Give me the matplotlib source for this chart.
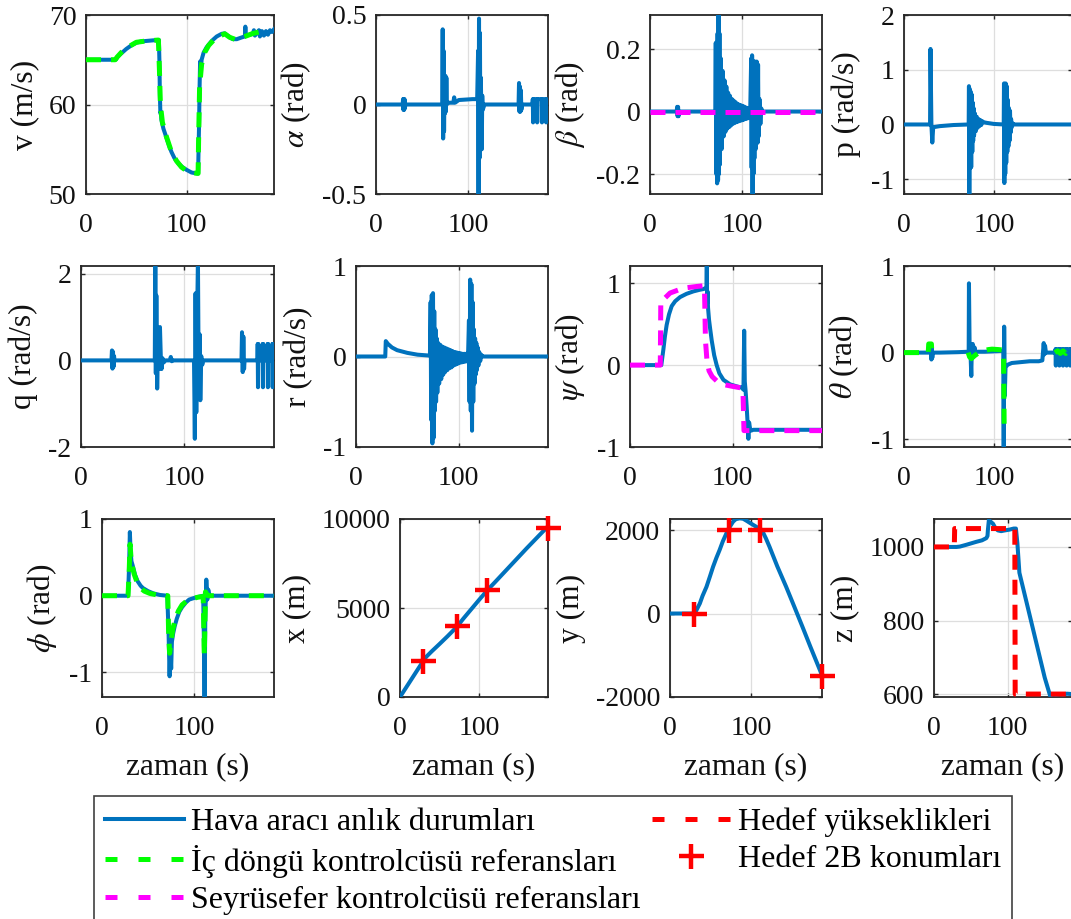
import numpy as np
import matplotlib
matplotlib.use('Agg')
import matplotlib.pyplot as plt
from matplotlib.lines import Line2D
from matplotlib.ticker import FuncFormatter

plt.rcParams['font.family'] = ['Liberation Serif', 'DejaVu Serif']
plt.rcParams['mathtext.fontset'] = 'stix'
plt.rcParams['axes.unicode_minus'] = False

BLUE = '#0072BD'
GREEN = '#00FF00'
MAGENTA = '#FF00FF'
RED = '#FF0000'
DARK = '#262626'

T_END = 187

# ---- simulation traces: (time [s], value) ----
v_state = np.array([(0, 65), (29, 65), (30, 65.05), (31, 65.3), (35, 65.7), (40, 66.2), (45, 66.6),
                    (50, 66.9), (55, 67.05), (60, 67.1), (65, 67.15), (70, 67.2), (72.5, 67.2),
                    (73, 65), (73.5, 61), (74, 59), (74.5, 59.2), (75, 58.3), (77, 57.3), (80, 56.3),
                    (83, 55.3), (85, 54.7), (88, 54), (92, 53.4), (96, 53), (100, 52.7), (105, 52.4),
                    (110, 52.3), (111.5, 52.3), (112.5, 58), (113, 62), (113.5, 64.8), (114, 63.5),
                    (115, 65), (117, 65.8), (120, 66.4), (125, 67.1), (130, 67.6), (135, 67.9),
                    (138, 67.95), (142, 67.6), (146, 67.3), (150, 67.3), (155, 67.5), (158, 67.6),
                    (158.5, 68.7), (159, 67.7), (163, 67.8), (166, 67.9), (167, 68.3), (168, 67.7),
                    (170, 68.0), (172, 68.3), (173, 67.6), (175, 68.2), (177, 67.7), (179, 68.2),
                    (181, 67.8), (183, 68.3), (185, 68.1), (187, 68.4)])
v_ref = np.array([(0, 65), (29, 65), (31, 65.3), (35, 65.8), (40, 66.3), (50, 66.95), (60, 67.1),
                  (72, 67.2), (73, 64), (74, 60), (76, 58), (80, 56.4), (85, 54.7), (90, 53.7),
                  (95, 53.0), (100, 52.6), (105, 52.4), (111.5, 52.3), (112, 56), (113, 62),
                  (115, 64.5), (118, 65.8), (122, 66.6), (127, 67.2), (132, 67.6), (138, 67.9),
                  (143, 67.5), (148, 67.3), (153, 67.4), (158, 67.6), (165, 67.9), (172, 68.1),
                  (178, 68.2)])

alpha_state = np.array([(0, 0), (29, 0), (29.4, 0.03), (29.8, -0.03), (30.2, 0.03), (30.6, -0.03),
                        (31, 0.03), (31.4, -0.02), (32, 0), (72, 0), (72.5, 0.42), (73, -0.19),
                        (73.5, 0.3), (74, -0.15), (74.5, 0.1), (75, -0.05), (75.5, 0.16), (76, -0.04),
                        (76.5, 0.15), (77, 0), (78, 0.01), (84, 0.01), (85, 0.04), (86, 0.01),
                        (90, 0.025), (105, 0.03), (110, 0.03), (111, 0.3), (111.5, -0.5), (112, 0.48),
                        (112.5, -0.3), (113, 0.4), (113.5, -0.25), (114, 0.15), (115, -0.25),
                        (115.5, 0.05), (116, -0.03), (118, 0), (155, 0), (155.5, 0.12), (156, -0.04),
                        (156.5, 0.1), (157, -0.04), (157.5, 0.08), (158, -0.03), (159, 0), (170, 0),
                        (170.5, 0.03), (170.8, -0.1), (171.1, 0.03), (174.9, 0.03), (175.2, -0.1),
                        (175.5, 0.03), (180.1, 0.03), (180.4, -0.1), (180.7, 0.03), (184.7, 0.03),
                        (185, -0.1), (185.3, 0.03), (187, 0.02)])

beta_state = np.array([(0, 0), (29, 0), (29.5, 0.015), (30, -0.015), (30.5, 0.015), (31, -0.015),
                       (31.5, 0), (71, 0), (71.5, 0.22), (72, -0.2), (72.5, 0.2), (73, -0.23),
                       (73.5, 0.25), (74, -0.22), (74.5, 0.31), (75, -0.2), (75.5, 0.25), (76, -0.17),
                       (77, 0.17), (78, -0.12), (79, 0.13), (80, -0.08), (81, 0.1), (82, -0.065),
                       (83, 0.08), (84, -0.055), (85, 0.06), (86, -0.05), (87, 0.05), (88, -0.045),
                       (89, 0.04), (90, -0.04), (91, 0.035), (92, -0.037), (93, 0.03), (94, -0.034),
                       (95, 0.025), (96, -0.032), (97, 0.022), (98, -0.03), (99, 0.02), (100, -0.028),
                       (101, 0.018), (102, -0.026), (103, 0.015), (104, -0.024), (105, 0.012),
                       (106, -0.022), (107, 0.01), (108, -0.02), (109, 0.01), (110, 0.17),
                       (110.5, -0.18), (111, 0.18), (111.5, -0.27), (112, 0.16), (112.5, -0.2),
                       (113, 0.16), (113.5, -0.15), (114, 0.16), (115, -0.12), (116, 0.16),
                       (117, -0.1), (117.5, 0.15), (118, -0.08), (119, 0.04), (120, -0.04),
                       (121, 0.01), (122, 0), (187, 0)])
beta_ref = np.array([(0, 0), (187, 0)])

p_state = np.array([(0, 0), (29, 0), (29.5, 1.38), (30.5, 0.0), (31.5, -0.33), (32.5, -0.05),
                    (40, -0.03), (55, -0.01), (72, 0), (72.3, 0.7), (72.7, -1.27), (73.2, 0.65),
                    (73.7, -0.8), (74.2, 0.6), (74.8, -0.78), (75.3, 0.55), (76, -0.5), (76.5, 0.4),
                    (77, -0.3), (77.5, 0.3), (78, -0.2), (79, 0.2), (80, -0.12), (81, 0.14),
                    (82, -0.06), (83, 0.1), (84, -0.03), (85, 0.08), (86, -0.01), (87, 0.06),
                    (89, 0.04), (92, 0.03), (96, 0.02), (100, 0.01), (111, 0), (111.3, 0.75),
                    (111.7, -1.07), (112.2, 0.7), (112.7, -0.9), (113.2, 0.75), (113.8, -0.7),
                    (114.4, 0.7), (115, -0.5), (115.6, 0.45), (116.2, -0.4), (116.8, 0.3),
                    (117.4, -0.3), (118, 0.25), (118.6, -0.15), (119.2, 0.1), (120, -0.05),
                    (121, 0.02), (122, 0), (187, 0)])

q_state = np.array([(0, 0), (29.5, 0), (30, 0.23), (30.5, -0.19), (31, 0.2), (31.5, -0.15),
                    (32, 0.1), (32.5, 0), (71.5, 0), (72, 2.3), (72.5, -0.3), (73, 1.5),
                    (73.8, -0.65), (74.5, 0.3), (75.5, -0.2), (76.5, 0.77), (77.3, 0.1), (78, -0.2),
                    (79, 0.05), (80, -0.05), (82, 0), (86, 0), (87, 0.08), (88, -0.02), (89, 0),
                    (109.5, 0), (110.3, -1.81), (111, 1.55), (111.7, -1.2), (112.5, 1.0),
                    (113.3, 2.3), (114, -0.3), (115, 0.6), (115.6, -0.92), (116.5, 0.1),
                    (117.5, -0.1), (118.5, 0), (155.5, 0), (156, 0.65), (156.7, -0.27),
                    (157.3, 0.55), (158, -0.2), (158.5, 0), (171, 0), (171.2, 0.38),
                    (171.5, -0.62), (171.8, 0.38), (172, 0), (175.8, 0), (176, 0.38),
                    (176.3, -0.62), (176.6, 0.38), (176.8, 0), (180.6, 0), (180.8, 0.38),
                    (181.1, -0.62), (181.4, 0.38), (181.6, 0), (185.2, 0), (185.4, 0.38),
                    (185.7, -0.62), (186, 0.38), (186.2, 0), (187, 0)])

r_state = np.array([(0, 0), (28.5, 0), (29, 0.17), (31, 0.14), (35, 0.1), (40, 0.07), (50, 0.04),
                    (60, 0.02), (72, 0.01), (72.7, 0.6), (73.2, -0.7), (73.8, 0.68), (74.4, -0.96),
                    (75, 0.7), (75.6, -0.9), (76.2, 0.5), (76.8, -0.6), (77.4, 0.3), (78, -0.5),
                    (78.6, 0.2), (79.2, -0.4), (80, 0.15), (81, -0.3), (82, 0.13), (83, -0.25),
                    (84, 0.11), (85, -0.2), (86, 0.1), (87, -0.17), (88, 0.09), (89, -0.15),
                    (90, 0.08), (91, -0.13), (92, 0.07), (93, -0.12), (94, 0.06), (95, -0.1),
                    (96, 0.05), (97, -0.09), (98, 0.045), (99, -0.08), (100, 0.04), (101, -0.07),
                    (102, 0.035), (103, -0.065), (104, 0.03), (105, -0.06), (106, 0.03),
                    (107, -0.055), (108, 0.03), (109, -0.05), (110, 0.4), (110.6, -0.5),
                    (111.2, 0.85), (111.8, -0.6), (112.4, 0.8), (113, -0.82), (113.6, 0.6),
                    (114.2, -0.5), (114.8, 0.3), (115.4, -0.3), (116, 0.2), (116.6, -0.2),
                    (117.2, 0.15), (117.8, -0.15), (118.5, 0.1), (119.2, -0.1), (120, 0.05),
                    (121, -0.05), (122, 0.02), (123, 0), (187, 0)])

psi_state = np.array([(0, 0), (30.5, 0), (32.5, 0.19), (34, 0.35), (35.7, 0.49), (38, 0.62),
                      (40.6, 0.72), (44, 0.78), (48.7, 0.83), (55, 0.87), (61.7, 0.9), (68, 0.92),
                      (72, 0.93), (74.5, 0.95), (74.8, 1.25), (75.1, 0.75), (75.5, 0.9), (76, 0.7),
                      (77, 0.55), (78, 0.45), (79.6, 0.3), (82, 0.12), (84.4, 0.0), (87, -0.1),
                      (91, -0.18), (97.4, -0.235), (104, -0.26), (108.8, -0.275), (110.5, -0.3),
                      (111.2, 0.42), (111.8, -0.2), (112.5, -0.3), (113.6, -0.5), (114.5, -0.7),
                      (115.3, -0.9), (116, -0.7), (117, -0.78), (118, -0.8), (120, -0.79),
                      (187, -0.79)])
psi_ref = np.array([(0, 0), (29.5, 0), (30, 0.78), (32.5, 0.8), (39, 0.88), (52, 0.94), (65, 0.96),
                    (72.5, 0.97), (73.5, 0.3), (75, 0.05), (77, -0.07), (80, -0.14), (85, -0.2),
                    (92, -0.24), (100, -0.26), (109, -0.28), (110, -0.3), (111, -0.8), (187, -0.8)])

theta_state = np.array([(0, 0), (29.5, 0), (30, 0.06), (30.5, -0.08), (31, 0.05), (31.5, -0.06),
                        (32, 0), (40, 0.0), (60, 0.005), (72, 0.01), (72.3, 0.8), (73, 0.1), (74, 0.0),
                        (74.9, -0.27), (75.5, 0.05), (76.5, 0.1), (77.5, -0.05), (78.5, 0.06),
                        (79.5, 0.0), (81, 0.01), (90, 0.01), (100, 0.015), (110.5, 0.02),
                        (111, -1.15), (111.5, 0.3), (112.2, -0.5), (113, -0.17), (115.4, -0.14),
                        (120, -0.12), (130, -0.11), (140, -0.1), (150, -0.1), (154, -0.09),
                        (155.5, 0.11), (156.3, -0.02), (157, 0.08), (158, 0), (168, 0),
                        (168.7, 0.04), (169, -0.15), (169.3, 0.04), (172.7, 0.04), (173, -0.15),
                        (173.3, 0.04), (176.7, 0.04), (177, -0.15), (177.3, 0.04), (180.7, 0.04),
                        (181, -0.15), (181.3, 0.04), (184.7, 0.04), (185, -0.15), (185.3, 0.04),
                        (187, 0.02)])
theta_ref = np.array([(0, 0), (27, 0), (27.5, 0.1), (30.5, 0.1), (31, 0), (np.nan, np.nan),
                      (71.5, 0), (73, -0.05), (75, -0.07), (78, -0.04), (82, -0.01), (88, 0.02),
                      (94, 0.035), (98, 0.04), (105, 0.035), (110, 0.03), (110.8, 0.0),
                      (111.5, -0.85), (np.nan, np.nan), (168, 0), (171, 0.02), (174, -0.01),
                      (177, 0.02), (180, -0.01), (183, 0.02), (187, 0)])

phi_state = np.array([(0, 0), (28.3, 0), (29.5, 0.4), (30.3, 0.83), (31, 0.6), (32, 0.45),
                      (33.7, 0.38), (36, 0.27), (38.7, 0.19), (42, 0.13), (44.5, 0.1), (50, 0.06),
                      (56, 0.03), (63, 0.01), (71, 0.0), (72.4, -0.5), (73.5, -1.05), (74.3, -0.7),
                      (75.2, -0.95), (76, -0.6), (77.4, -0.49), (79, -0.4), (81.3, -0.3),
                      (84, -0.21), (87, -0.15), (91, -0.09), (94.8, -0.05), (100, -0.03),
                      (106.5, -0.01), (110, 0), (110.8, -0.6), (111.5, -1.4), (112.3, -0.3),
                      (113.4, 0.21), (114.5, -0.05), (115.5, 0.08), (117, 0.0), (187, 0)])
phi_ref = np.array([(0, 0), (28.3, 0), (29.5, 0.3), (30.5, 0.67), (31.5, 0.5), (33, 0.38),
                    (35, 0.28), (38, 0.18), (42, 0.1), (46, 0.06), (52, 0.03), (60, 0.01),
                    (71.5, 0.0), (72.5, -0.5), (73.5, -0.75), (75, -0.6), (77, -0.43), (80, -0.3),
                    (83, -0.2), (87, -0.12), (92, -0.07), (98, -0.04), (104, -0.02), (110, -0.01),
                    (110.5, -0.3), (111.2, -0.77), (112, -0.3), (112.5, 0.05), (113.5, 0.03),
                    (115, 0.0), (187, 0)])

x_state = np.array([(0, 0), (29, 2000), (33, 2250), (40, 2560), (50, 2980), (60, 3410), (72, 3950),
                    (80, 4400), (90, 4930), (100, 5460), (111, 6030), (120, 6450), (140, 7400),
                    (160, 8350), (180, 9270), (187, 9580)])
y_state = np.array([(0, 0), (28.6, 0), (32, 60), (36.7, 240), (40, 420), (44.9, 640), (49, 880),
                    (53, 1120), (57, 1330), (61, 1520), (65, 1730), (69.4, 1920), (73, 2060),
                    (77.6, 2200), (81, 2260), (85.7, 2280), (90, 2270), (94, 2224), (100, 2150),
                    (106, 2080), (110, 2020), (114, 1960), (118, 1800), (122.4, 1600),
                    (132, 1130), (142.9, 640), (153, 160), (163, -320), (173, -810),
                    (183.7, -1320), (187, -1480)])
z_state = np.array([(0, 1000), (30.5, 1000), (35, 1001), (44, 1006), (57.4, 1014), (65, 1018),
                    (70.9, 1024), (72.5, 1030), (73, 1045), (74.4, 1074), (76, 1070), (80, 1063),
                    (83, 1052), (86.5, 1045), (91, 1043), (96, 1045), (102, 1047), (108, 1050),
                    (111, 1050), (113, 1010), (115.7, 930), (126.8, 838), (140, 728), (150, 645),
                    (157.4, 595), (160.5, 600), (165, 598), (170, 600), (175, 599), (180, 601),
                    (187, 600)])
z_target = np.array([(0, 1000), (27.5, 1000), (28, 1050), (109.5, 1050), (110, 600), (187, 600)])

# 2-D waypoints (time reached, x, y)
wp_time = [29, 72.5, 110.5, 186.5]
wp_x = [2000, 4000, 6000, 9500]
wp_y = [0, 2000, 2000, -1500]

legend_labels = ['Hava aracı anlık durumları',
                 'İç döngü kontrolcüsü referansları',
                 'Seyrüsefer kontrolcüsü referansları',
                 'Hedef yükseklikleri',
                 'Hedef 2B konumları']

# ---- layout (pixel boxes: left, right, top, bottom) ----
W, H = 1071, 919
boxes = [
    [(86, 274, 15, 194), (376, 548, 15, 194), (650, 822, 15, 194), (904, 1072, 15, 194)],
    [(81, 274, 266, 447), (356, 548, 266, 447), (630, 822, 266, 447), (904, 1072, 266, 447)],
    [(102, 274, 519, 697), (400, 548, 519, 697), (670, 822, 519, 697), (934, 1072, 519, 697)],
]

fig = plt.figure(figsize=(W / 100, H / 100), dpi=100)

DASH = (0, (3, 2))
LEG_DASH = (0, (2.4, 4.2))
state_kw = dict(color=BLUE, lw=2.9, solid_joinstyle='round', zorder=3)
ref_kw = dict(lw=3.6, linestyle=DASH, zorder=4)
fmt = FuncFormatter(lambda v, pos: '{:g}'.format(v))


def make_ax(box, ylabel, ylim, yticks, xlabel=False):
    l, r, t, b = box
    ax = fig.add_axes([l / W, 1 - b / H, (r - l) / W, (b - t) / H])
    ax.set_xlim(0, T_END)
    ax.set_ylim(*ylim)
    ax.set_xticks([0, 100])
    ax.set_yticks(yticks)
    ax.yaxis.set_major_formatter(fmt)
    ax.grid(True, color='#dedede', lw=0.9)
    ax.set_axisbelow(True)
    ax.tick_params(direction='in', length=3, width=1, top=True, right=True,
                   labelsize=20, colors=DARK, labelcolor='#111111')
    ax.tick_params(axis='y', pad=7)
    ax.tick_params(axis='x', pad=14)
    for s in ax.spines.values():
        s.set_color(DARK)
        s.set_linewidth(1.3)
    ax.set_ylabel(ylabel, fontsize=22.7, labelpad=7, color='#111111')
    if xlabel:
        ax.set_xlabel('zaman (s)', fontsize=22.7, labelpad=8, color='#111111')
    return ax


# row 1
ax = make_ax(boxes[0][0], 'v (m/s)', (50, 70), [50, 60, 70])
ax.plot(v_state[:, 0], v_state[:, 1], **state_kw)
ax.plot(v_ref[:, 0], v_ref[:, 1], color=GREEN, **ref_kw)

ax = make_ax(boxes[0][1], r'$\alpha$ (rad)', (-0.5, 0.5), [-0.5, 0, 0.5])
ax.plot(alpha_state[:, 0], alpha_state[:, 1], **state_kw)

ax = make_ax(boxes[0][2], r'$\beta$ (rad)', (-0.264, 0.309), [-0.2, 0, 0.2])
ax.plot(beta_state[:, 0], beta_state[:, 1], **state_kw)
ax.plot(beta_ref[:, 0], beta_ref[:, 1], color=MAGENTA, **ref_kw)

ax = make_ax(boxes[0][3], 'p (rad/s)', (-1.27, 2), [-1, 0, 1, 2])
ax.plot(p_state[:, 0], p_state[:, 1], **state_kw)

# row 2
ax = make_ax(boxes[1][0], 'q (rad/s)', (-2, 2.18), [-2, 0, 2])
ax.plot(q_state[:, 0], q_state[:, 1], **state_kw)

ax = make_ax(boxes[1][1], 'r (rad/s)', (-1, 1), [-1, 0, 1])
ax.plot(r_state[:, 0], r_state[:, 1], **state_kw)

ax = make_ax(boxes[1][2], r'$\psi$ (rad)', (-1, 1.21), [-1, 0, 1])
ax.plot(psi_state[:, 0], psi_state[:, 1], **state_kw)
ax.plot(psi_ref[:, 0], psi_ref[:, 1], color=MAGENTA, **ref_kw)

ax = make_ax(boxes[1][3], r'$\theta$ (rad)', (-1.09, 1), [-1, 0, 1])
ax.plot(theta_state[:, 0], theta_state[:, 1], **state_kw)
ax.plot(theta_ref[:, 0], theta_ref[:, 1], color=GREEN, **ref_kw)

# row 3
ax = make_ax(boxes[2][0], r'$\phi$ (rad)', (-1.32, 1), [-1, 0, 1], xlabel=True)
ax.plot(phi_state[:, 0], phi_state[:, 1], **state_kw)
ax.plot(phi_ref[:, 0], phi_ref[:, 1], color=GREEN, **ref_kw)

marker_kw = dict(color=RED, marker='+', ms=18, mew=3.2, ls='none', zorder=5, clip_on=False)

ax = make_ax(boxes[2][1], 'x (m)', (0, 10000), [0, 5000, 10000], xlabel=True)
ax.plot(x_state[:, 0], x_state[:, 1], **state_kw)
ax.plot(wp_time, wp_x, **marker_kw)

ax = make_ax(boxes[2][2], 'y (m)', (-2000, 2264), [-2000, 0, 2000], xlabel=True)
ax.plot(y_state[:, 0], y_state[:, 1], **state_kw)
ax.plot(wp_time, wp_y, **marker_kw)

ax = make_ax(boxes[2][3], 'z (m)', (592, 1076), [600, 800, 1000], xlabel=True)
ax.plot(z_state[:, 0], z_state[:, 1], **state_kw)
ax.plot(z_target[:, 0], z_target[:, 1], color=RED, **ref_kw)

# shared legend under the grid
handles = [Line2D([], [], color=BLUE, lw=2.9),
           Line2D([], [], color=GREEN, lw=3.6, linestyle=LEG_DASH),
           Line2D([], [], color=MAGENTA, lw=3.6, linestyle=LEG_DASH),
           Line2D([], [], color=RED, lw=3.6, linestyle=LEG_DASH),
           Line2D([], [], color=RED, marker='+', ms=18, mew=3.2, ls='none')]
leg = fig.legend(handles, legend_labels, ncol=2, loc='upper left',
                 bbox_to_anchor=(94 / W, 1 - 796 / H), borderaxespad=0,
                 fontsize=23, frameon=True, fancybox=False, edgecolor='#111111',
                 handlelength=2.47, handletextpad=0.22, columnspacing=0.35,
                 borderpad=0.35, labelspacing=0.25)
leg.get_frame().set_linewidth(1.2)

fig.savefig('out.png', dpi=100)
